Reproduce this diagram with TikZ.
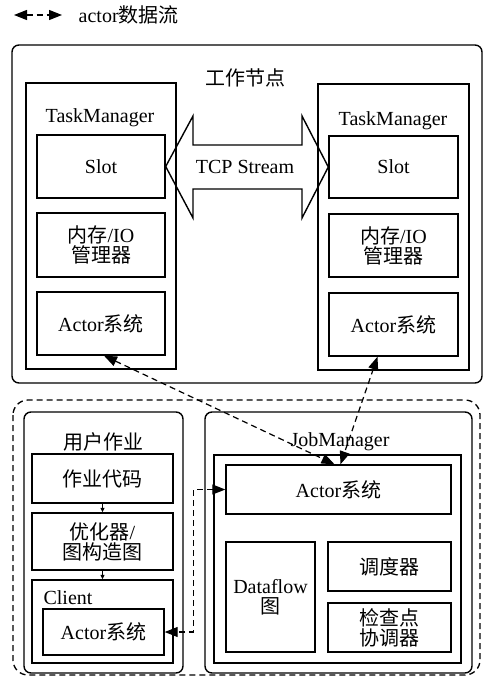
\documentclass[tikz,border=0pt]{standalone}
\usepackage{fontspec}
\setmainfont{Liberation Serif}
\newfontfamily\cjk{Noto Sans CJK SC}
\usetikzlibrary{arrows.meta}
\newcommand{\zhx}[1]{{\cjk #1}}
\begin{document}
\begin{tikzpicture}[x=1pt,y=-1pt,line width=1.4pt,
  font=\fontsize{20}{20}\selectfont,
  box/.style={draw, rectangle, inner sep=0pt, align=center},
  rbox/.style={box, rounded corners=7pt},
  lbl/.style={inner sep=0pt, align=center},
  flow/.style={dash pattern=on 6pt off 4pt, line width=1.2pt,
    {Triangle[length=13pt,width=10pt]}-{Triangle[length=13pt,width=10pt]}},
  small/.style={line width=0.8pt, -{Triangle[length=4.5pt,width=4pt]}}]
\path[use as bounding box, fill=white] (0,0) rectangle (488,685);

% legend
\coordinate (la) at (14,15);
\coordinate (lb) at (62,15);
\draw[flow] (la) -- (lb);
\node[lbl, anchor=west] (legend) at (78,15) {actor\zhx{数据流}};

% worker node
\node[rbox, minimum width=470, minimum height=338] (worker) at (247,214) {};
\node[lbl] (workerlbl) at (245,78) {\zhx{工作节点}};

% left task manager
\node[box, minimum width=150, minimum height=286] (LTM) at (101,226) {};
\node[lbl] (LTMlbl) at (100,118) {TaskManager};
\node[box, minimum width=128, minimum height=63] (LSlot) at (101,166.5) {Slot};
\node[box, minimum width=128, minimum height=64] (LMem) at (101,245) {\zhx{内存}/IO\\\zhx{管理器}};
\node[box, minimum width=128, minimum height=63] (LAct) at (101,323.5) {Actor\zhx{系统}};

% right task manager
\node[box, minimum width=151, minimum height=286] (RTM) at (393.5,227) {};
\node[lbl] (RTMlbl) at (393,121) {TaskManager};
\node[box, minimum width=129, minimum height=62] (RSlot) at (393.5,167) {Slot};
\node[box, minimum width=129, minimum height=63] (RMem) at (393.5,245.5) {\zhx{内存}/IO\\\zhx{管理器}};
\node[box, minimum width=129, minimum height=63] (RAct) at (393.5,324.5) {Actor\zhx{系统}};

% TCP stream double arrow
\draw (LSlot.east) -- (193,116) -- (193,145) -- (302,145) -- (302,116)
  -- (RSlot.west) -- (302,218) -- (302,189) -- (193,189) -- (193,218) -- cycle;
\node[lbl] (tcp) at (245,167) {TCP Stream};

% bottom dashed region
\draw[dash pattern=on 6pt off 4pt, rounded corners=15pt, line width=1.3pt]
  (13,400) rectangle (480,675);

% user job
\node[rbox, minimum width=159, minimum height=261] (user) at (103.5,542.5) {};
\node[lbl] (userlbl) at (103,442) {\zhx{用户作业}};
\node[box, minimum width=141, minimum height=49] (code) at (102.5,478.5) {\zhx{作业代码}};
\node[box, minimum width=141, minimum height=57] (opt) at (102.5,541.5) {\zhx{优化器}/\\\zhx{图构造图}};
\node[box, minimum width=141, minimum height=83] (client) at (102.5,621.5) {};
\node[lbl] (clientlbl) at (68,598) {Client};
\node[box, minimum width=121, minimum height=46] (CAct) at (103.5,632) {Actor\zhx{系统}};
\draw[small] (code) -- (opt);
\draw[small] (opt) -- (client);

% job manager
\node[rbox, minimum width=267, minimum height=261] (JM) at (338.5,542.5) {};
\node[lbl] (JMlbl) at (340,442) {JobManager};
\node[box, minimum width=247, minimum height=208] (JMin) at (337.5,559) {};
\node[box, minimum width=225, minimum height=49] (JAct) at (338.5,489.5) {Actor\zhx{系统}};
\node[box, minimum width=89, minimum height=110] (DF) at (270.5,597) {Dataflow\\\zhx{图}};
\node[box, minimum width=123, minimum height=49] (sched) at (389.5,566.5) {\zhx{调度器}};
\node[box, minimum width=123, minimum height=49] (ck) at (389.5,627.5) {\zhx{检查点}\\\zhx{协调器}};

% actor data flows
\draw[flow] ([xshift=3pt]LAct.south) -- ([xshift=-4pt]JAct.north);
\draw[flow] ([xshift=-16pt]RAct.south) -- ([xshift=2pt]JAct.north);
\draw[flow] (JAct.west) -- ++(-32,0) |- (CAct.east);
\end{tikzpicture}
\end{document}
